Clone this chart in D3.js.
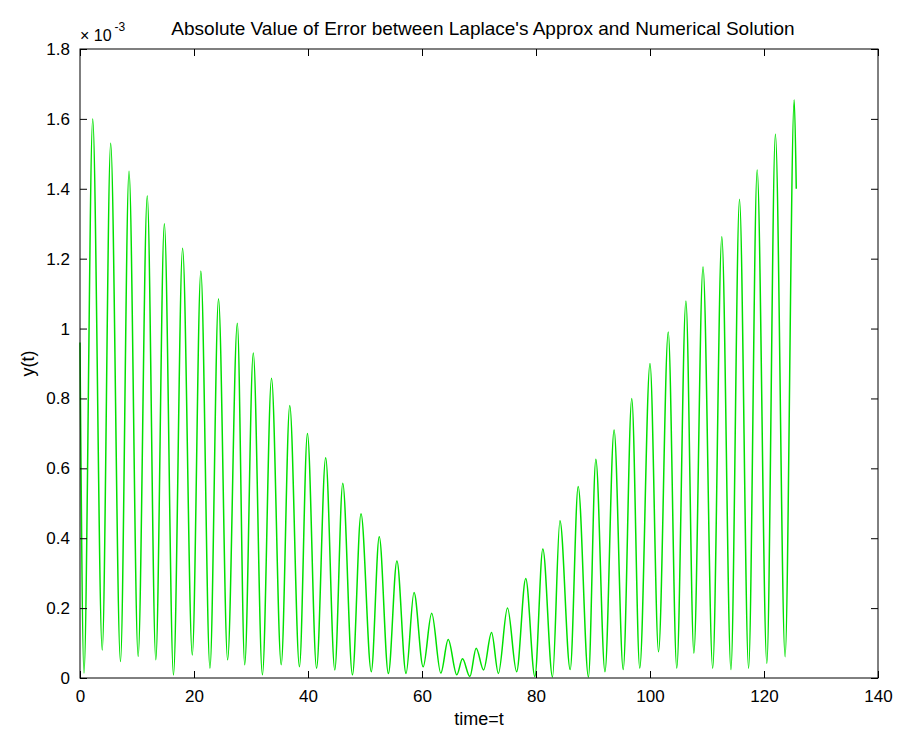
<!DOCTYPE html>
<html>
<head>
<meta charset="utf-8">
<script src="https://cdn.jsdelivr.net/npm/d3@7"></script>
<style>
  body { margin: 0; background: #fff; }
  svg text { font-family: "Liberation Sans", Arial, sans-serif; fill: #000; }
</style>
</head>
<body>
<svg id="chart"></svg>
<script>
// values (y in units of 1e-3)
var startPoint = [0, 0.96];
var endPoint = [125.66, 1.40];

// local maxima of the curve
var peakT = [2.23, 5.38, 8.6, 11.8, 14.8, 18.0, 21.2, 24.3, 27.6, 30.4,
  33.6, 36.8, 39.9, 43.1, 46.1, 49.3, 52.5, 55.6, 58.6, 61.7,
  64.6, 67.1, 69.5, 72.2, 75.0, 78.2, 81.2, 84.2, 87.4, 90.5,
  93.7, 96.8, 100.0, 103.2, 106.3, 109.3, 112.6, 115.7, 118.8, 122.0, 125.3];
var peakY = [1.60, 1.53, 1.45, 1.38, 1.30, 1.23, 1.165, 1.085, 1.015, 0.93,
  0.858, 0.78, 0.70, 0.63, 0.557, 0.47, 0.404, 0.335, 0.245, 0.185,
  0.11, 0.055, 0.085, 0.13, 0.20, 0.285, 0.369, 0.45, 0.548, 0.626,
  0.71, 0.80, 0.90, 0.99, 1.079, 1.177, 1.263, 1.37, 1.454, 1.556, 1.654];

// local minima of the curve
var troughT = [0.7, 3.9, 7.1, 10.2, 13.3, 16.4, 19.7, 22.8, 25.9, 28.9,
  32.0, 35.3, 38.5, 41.5, 44.7, 47.8, 51.1, 54.1, 57.2, 60.2,
  63.3, 66.1, 68.4, 70.8, 73.4, 76.6, 79.8, 82.9, 86.0, 89.2,
  92.1, 95.3, 98.2, 101.5, 104.7, 107.7, 111.0, 114.2, 117.3, 120.5, 123.7];
var troughY = [0.014, 0.08, 0.047, 0.062, 0.052, 0.009, 0.066, 0.028, 0.052, 0.038,
  0.009, 0.038, 0.032, 0.028, 0.023, 0.009, 0.018, 0.013, 0.013, 0.032,
  0.014, 0.009, 0.004, 0.023, 0.013, 0.018, 0.004, 0.003, 0.024, 0.003,
  0.018, 0.024, 0.028, 0.075, 0.028, 0.071, 0.028, 0.024, 0.028, 0.042, 0.061];

var xTicks = [0, 20, 40, 60, 80, 100, 120, 140];
var yTicks = [0, 0.2, 0.4, 0.6, 0.8, 1, 1.2, 1.4, 1.6, 1.8];

var titleText = "Absolute Value of Error between Laplace's Approx and Numerical Solution";
var xLabel = "time=t";
var yLabel = "y(t)";

var width = 899, height = 736;
var margin = { top: 49, right: 21, bottom: 58, left: 80 };
var innerW = width - margin.left - margin.right;
var innerH = height - margin.top - margin.bottom;
var tickLen = 7;

var svg = d3.select("#chart")
  .attr("width", width)
  .attr("height", height);

// build the vertex list: start, then trough/peak pairs, then end
var points = [startPoint];
troughT.forEach(function (t, i) {
  points.push([t, troughY[i]]);
  points.push([peakT[i], peakY[i]]);
});
points.push(endPoint);

var x = d3.scaleLinear().domain([0, 140]).range([0, innerW]);
var y = d3.scaleLinear().domain([0, 1.8]).range([innerH, 0]);

var g = svg.append("g")
  .attr("transform", "translate(" + margin.left + "," + margin.top + ")");

// the curve
var line = d3.line()
  .x(function (d) { return x(d[0]); })
  .y(function (d) { return y(d[1]); })
  .curve(d3.curveMonotoneX);

g.append("path")
  .datum(points)
  .attr("fill", "none")
  .attr("stroke", "#00e000")
  .attr("stroke-width", 1.5)
  .attr("d", line);

// axes, matlab style: ticks pointing inward on all four sides
var fmt = function (d) { return d3.format("~g")(d); };

g.append("g")
  .attr("transform", "translate(0," + innerH + ")")
  .call(d3.axisBottom(x).tickValues(xTicks).tickSizeInner(-tickLen).tickSizeOuter(0).tickPadding(12).tickFormat(fmt));
g.append("g")
  .call(d3.axisTop(x).tickValues(xTicks).tickSizeInner(-tickLen).tickSizeOuter(0).tickFormat(""));
g.append("g")
  .call(d3.axisLeft(y).tickValues(yTicks).tickSizeInner(-tickLen).tickSizeOuter(0).tickPadding(10).tickFormat(fmt));
g.append("g")
  .attr("transform", "translate(" + innerW + ",0)")
  .call(d3.axisRight(y).tickValues(yTicks).tickSizeInner(-tickLen).tickSizeOuter(0).tickFormat(""));

g.selectAll(".domain").remove();
g.selectAll(".tick line").attr("stroke", "#000");
g.selectAll(".tick text").attr("font-size", 17);

// box round the plot
g.append("rect")
  .attr("width", innerW)
  .attr("height", innerH)
  .attr("fill", "none")
  .attr("stroke", "#000")
  .attr("stroke-width", 1);

// exponent marker above the y axis
var expo = svg.append("text")
  .attr("x", margin.left)
  .attr("y", 41)
  .attr("font-size", 16);
expo.append("tspan").text("\u00d7 10");
expo.append("tspan").attr("dy", -10).attr("dx", 3).attr("font-size", 12).text("-3");

// title
svg.append("text")
  .attr("x", margin.left + innerW / 2 + 4)
  .attr("y", 35)
  .attr("text-anchor", "middle")
  .attr("font-size", 19)
  .text(titleText);

// axis labels
svg.append("text")
  .attr("x", margin.left + innerW / 2)
  .attr("y", 725)
  .attr("text-anchor", "middle")
  .attr("font-size", 18)
  .text(xLabel);

svg.append("text")
  .attr("transform", "translate(34," + (margin.top + innerH / 2) + ") rotate(-90)")
  .attr("text-anchor", "middle")
  .attr("font-size", 18)
  .text(yLabel);
</script>
</body>
</html>
